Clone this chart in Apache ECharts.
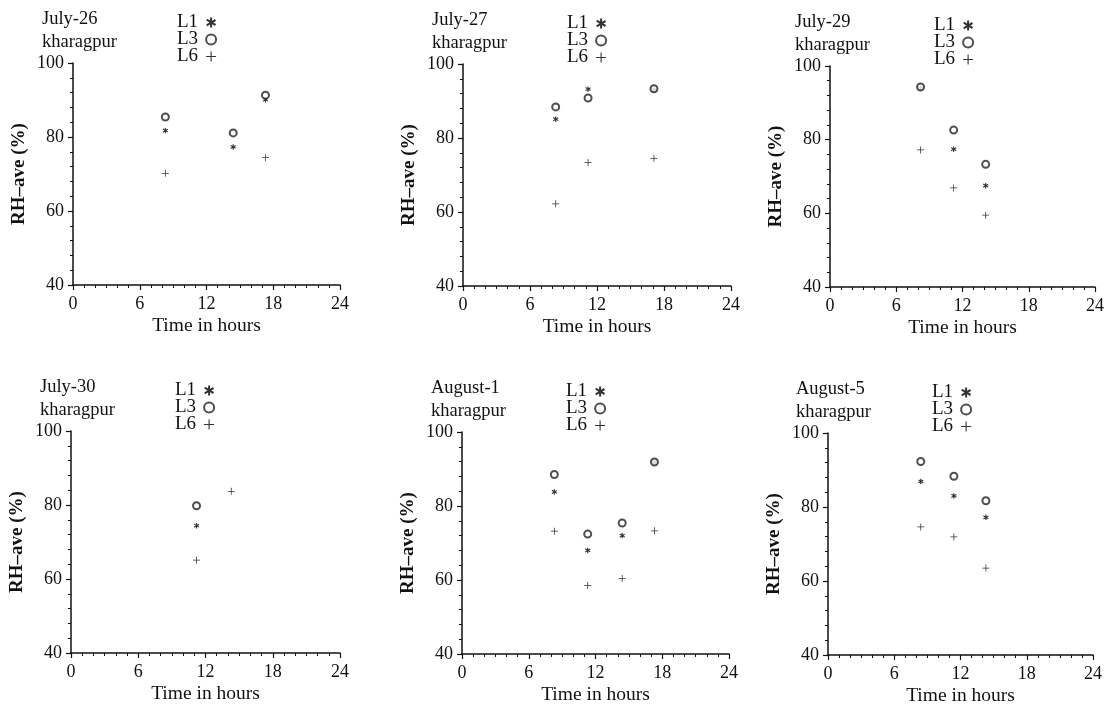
<!DOCTYPE html>
<html>
<head>
<meta charset="utf-8">
<script src="https://cdn.jsdelivr.net/npm/echarts@6/dist/echarts.min.js"></script>
<style>
  html, body { margin: 0; padding: 0; background: #fff; }
  #chart { width: 1117px; height: 709px; }
</style>
</head>
<body>
<div id="chart"></div>
<script>
// ---- Data ----
const panelTitles = ['July-26', 'July-27', 'July-29', 'July-30', 'August-1', 'August-5'];
const place = 'kharagpur';
const seriesNames = ['L1', 'L3', 'L6'];

const timesJul26 = [8.3, 14.4, 17.3];
const l1Jul26 = [81.7, 77.3, 90.1];
const l3Jul26 = [85.4, 81.1, 91.3];
const l6Jul26 = [70.2, null, 74.4];

const timesJul27 = [8.3, 11.2, 17.1];
const l1Jul27 = [85.1, 93.2, 93.1];
const l3Jul27 = [88.4, 90.8, 93.3];
const l6Jul27 = [62.2, 73.4, 74.5];

const timesJul29 = [8.2, 11.2, 14.1];
const l1Jul29 = [94.0, 77.4, 67.5];
const l3Jul29 = [94.3, 82.6, 73.3];
const l6Jul29 = [77.2, 66.9, 59.5];

const timesJul30 = [11.2, 14.3];
const l1Jul30 = [74.4, null];
const l3Jul30 = [79.8, null];
const l6Jul30 = [65.1, 83.7];

const timesAug1 = [8.3, 11.3, 14.4, 17.3];
const l1Aug1 = [83.8, 68.0, 72.0, 91.8];
const l3Aug1 = [88.5, 72.4, 75.4, 91.9];
const l6Aug1 = [73.2, 58.5, 60.4, 73.3];

const timesAug5 = [8.4, 11.4, 14.3];
const l1Aug5 = [86.9, 83.0, 77.2];
const l3Aug5 = [92.3, 88.3, 81.7];
const l6Aug5 = [74.6, 71.9, 63.5];

const xTicks = [0, 6, 12, 18, 24];
const yTicks = [40, 60, 80, 100];

const panels = [
  { times: timesJul26, vals: [l1Jul26, l3Jul26, l6Jul26] },
  { times: timesJul27, vals: [l1Jul27, l3Jul27, l6Jul27] },
  { times: timesJul29, vals: [l1Jul29, l3Jul29, l6Jul29] },
  { times: timesJul30, vals: [l1Jul30, l3Jul30, l6Jul30] },
  { times: timesAug1, vals: [l1Aug1, l3Aug1, l6Aug1] },
  { times: timesAug5, vals: [l1Aug5, l3Aug5, l6Aug5] }
];

// ---- Layout ----
const grids = [
  { left: 73, top: 63, width: 267, height: 222 },
  { left: 463, top: 64, width: 268, height: 222 },
  { left: 830, top: 66, width: 265, height: 221 },
  { left: 71, top: 431, width: 269, height: 222 },
  { left: 462, top: 432, width: 267, height: 222 },
  { left: 828, top: 433, width: 265, height: 222 }
];
const titleOffsets = [-31, -31, -35, -31, -31, -32];

const FONT = '"Liberation Serif", "Times New Roman", serif';
const INK = '#111';

const starPath = 'path://M4.0,0L6.0,0L6.0,10L4.0,10Z M1.0,1.2L9.9,6.6L8.9,8.4L0.1,3.0Z M0.1,7.0L8.9,1.6L9.9,3.4L1.0,8.8Z';
const plusPath = 'path://M4.45,0L5.55,0L5.55,4.45L10,4.45L10,5.55L5.55,5.55L5.55,10L4.45,10L4.45,5.55L0,5.55L0,4.45L4.45,4.45Z';
const symbols = [
  { symbol: starPath, size: 5.5, itemStyle: { color: '#000' } },
  { symbol: 'emptyCircle', size: 7, itemStyle: { color: '#222', borderWidth: 0.9 } },
  { symbol: plusPath, size: 7, itemStyle: { color: '#000' } }
];

const option = {
  backgroundColor: '#fff',
  animation: false,
  title: [], legend: [], grid: [], xAxis: [], yAxis: [], series: []
};

grids.forEach((g, i) => {
  option.grid.push({ left: g.left, top: g.top, width: g.width, height: g.height, containLabel: false });
  option.title.push({
    text: panelTitles[i] + '\n' + place,
    left: g.left + titleOffsets[i],
    top: g.top - 55,
    padding: 0,
    textStyle: { fontFamily: FONT, fontSize: 18.5, fontWeight: 'normal', color: INK, lineHeight: 23 }
  });
  option.legend.push({
    orient: 'vertical',
    left: g.left + 104,
    top: g.top - 50,
    padding: 0,
    itemGap: -2,
    itemWidth: 16,
    itemHeight: 10,
    align: 'right',
    selectedMode: false,
    textStyle: { fontFamily: FONT, fontSize: 19, color: INK, lineHeight: 14 },
    data: seriesNames.map((n, k) => ({ name: n, icon: symbols[k].symbol }))
  });
  option.xAxis.push({
    type: 'value', gridIndex: i, min: 0, max: 24, interval: 6,
    name: 'Time in hours', nameLocation: 'middle', nameGap: 31,
    nameTextStyle: { fontFamily: FONT, fontSize: 19.5, color: INK },
    axisLine: { show: true, onZero: false, lineStyle: { color: INK, width: 1.5 } },
    axisTick: { show: true, inside: false, length: 5, lineStyle: { color: INK, width: 1.2 } },
    minorTick: { show: true, splitNumber: 6, length: 3, lineStyle: { color: INK, width: 1 } },
    axisLabel: { margin: 10, fontFamily: FONT, fontSize: 18, color: INK },
    splitLine: { show: false }
  });
  option.yAxis.push({
    type: 'value', gridIndex: i, min: 40, max: 100, interval: 20,
    name: 'RH\u2013ave (%)', nameLocation: 'middle', nameGap: 44, nameRotate: 90,
    nameTextStyle: { fontFamily: FONT, fontSize: 19, fontWeight: 'bold', color: INK },
    axisLine: { show: true, onZero: false, lineStyle: { color: INK, width: 1.5 } },
    axisTick: { show: true, inside: false, length: 5, lineStyle: { color: INK, width: 1.2 } },
    minorTick: { show: true, splitNumber: 5, length: 3, lineStyle: { color: INK, width: 1 } },
    axisLabel: { margin: 9, fontFamily: FONT, fontSize: 18, color: INK },
    splitLine: { show: false }
  });
  const p = panels[i];
  seriesNames.forEach((n, k) => {
    const data = [];
    p.times.forEach((t, j) => { if (p.vals[k][j] != null) data.push([t, p.vals[k][j]]); });
    option.series.push({
      type: 'scatter', name: n, xAxisIndex: i, yAxisIndex: i,
      symbol: symbols[k].symbol, symbolSize: symbols[k].size,
      itemStyle: symbols[k].itemStyle,
      emphasis: { disabled: true },
      data: data
    });
  });
});

const chart = echarts.init(document.getElementById('chart'), null, { renderer: 'canvas' });
chart.setOption(option);
</script>
</body>
</html>
